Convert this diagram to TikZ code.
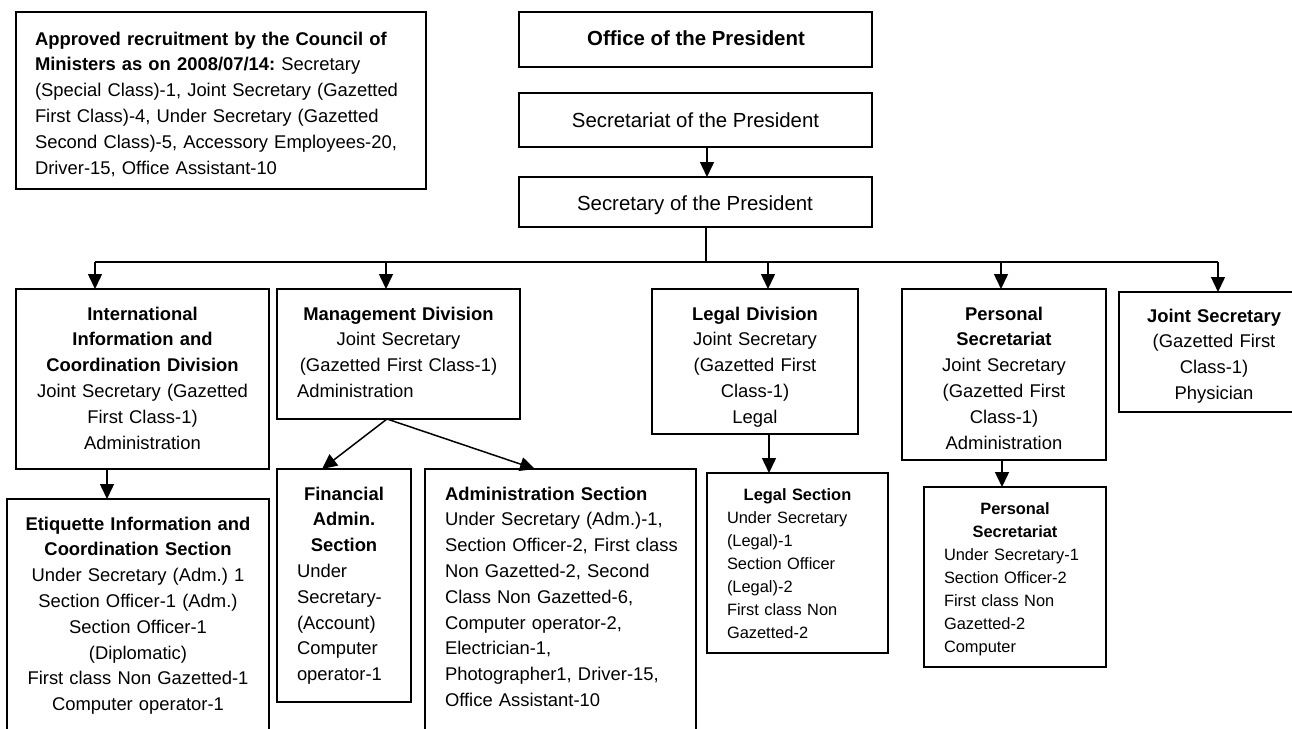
\documentclass[tikz,border=0pt]{standalone}
\usepackage{fontspec}
\setmainfont{Liberation Sans}
\usetikzlibrary{arrows.meta}
\frenchspacing
\newcommand\myfA{\fontsize{18.4}{25.8}\selectfont}
\newcommand\myfB{\fontsize{20.4}{24}\selectfont}
\newcommand\myfC{\fontsize{16.4}{23}\selectfont}
\newcommand\myctr[1]{\makebox[\linewidth]{#1}}
\newcommand\bx[5]{\node[box, minimum width=#4-#2, minimum height=#5-#3] (#1) at (#2,#3) {};}
\begin{document}
\begin{tikzpicture}[x=1pt,y=-1pt,
  box/.style={draw, line width=1.5pt, anchor=north west, inner sep=0pt, outer sep=0pt},
  txt/.style={inner sep=0pt, outer sep=0pt, font=\myfA},
  arr/.style={line width=1.5pt, -{Triangle[length=15pt,width=14pt]}},
  ln/.style={line width=1.5pt}]
\useasboundingbox (0,0) rectangle (1292,728);
\clip (0,0) rectangle (1292,728);

% boxes
\bx{note}{16}{12}{426}{189}
\bx{office}{519}{12}{872}{67}
\bx{secr}{519}{93}{872}{147}
\bx{sec}{519}{177}{872}{227}
\bx{intl}{16}{289}{269}{469}
\bx{mgmt}{277}{289}{520}{419}
\bx{legal}{652}{289}{858}{434}
\bx{pers}{902}{289}{1106}{460}
\bx{jsec}{1119}{292}{1309}{412}
\bx{etiq}{7}{499}{269}{750}
\bx{fin}{277}{469}{411}{702}
\bx{adm}{425}{469}{696}{750}
\bx{legs}{707}{473}{888}{653}
\bx{perss}{924}{487}{1106}{667}

% texts
\node[txt, anchor=base west, text width=385, align=left] (note-t) at (35,45)
  {\textbf{Approved recruitment by the Council of}\\\textbf{Ministers as on 2008/07/14:} Secretary\\(Special Class)-1, Joint Secretary (Gazetted\\First Class)-4, Under Secretary (Gazetted\\Second Class)-5, Accessory Employees-20,\\Driver-15, Office Assistant-10};
\node[txt, font=\myfB\bfseries, anchor=base] (office-t) at (696,45.5) {Office of the President};
\node[txt, font=\myfB, anchor=base] (secr-t) at (695.5,127) {Secretariat of the President};
\node[txt, font=\myfB, anchor=base] (sec-t) at (695,210) {Secretary of the President};

\node[txt, anchor=base, text width=245, align=center] (intl-t) at (142.5,320)
  {\textbf{International}\\\textbf{Information and}\\\textbf{Coordination Division}\\Joint Secretary (Gazetted\\First Class-1)\\Administration};
\node[txt, anchor=base west, text width=203, align=left] (mgmt-t) at (297,320)
  {\myctr{\textbf{Management Division}}\\\myctr{Joint Secretary}\\\myctr{(Gazetted First Class-1)}\\Administration};
\node[txt, anchor=base, text width=200, align=center] (legal-t) at (755,320)
  {\textbf{Legal Division}\\Joint Secretary\\(Gazetted First\\Class-1)\\Legal};
\node[txt, anchor=base, text width=200, align=center] (pers-t) at (1004,320)
  {\textbf{Personal}\\\textbf{Secretariat}\\Joint Secretary\\(Gazetted First\\Class-1)\\Administration};
\node[txt, anchor=base, text width=185, align=center] (jsec-t) at (1214,322)
  {\textbf{Joint Secretary}\\(Gazetted First\\Class-1)\\Physician};

\node[txt, anchor=base, text width=255, align=center] (etiq-t) at (138,530)
  {\textbf{Etiquette Information and}\\\textbf{Coordination Section}\\Under Secretary (Adm.) 1\\Section Officer-1 (Adm.)\\Section Officer-1\\(Diplomatic)\\First class Non Gazetted-1\\Computer operator-1};
\node[txt, anchor=base west, text width=94, align=left] (fin-t) at (297,500)
  {\myctr{\textbf{Financial}}\\\myctr{\textbf{Admin.}}\\\myctr{\textbf{Section}}\\Under\\Secretary-\\(Account)\\Computer\\operator-1};
\node[txt, anchor=base west, text width=250, align=left] (adm-t) at (445,500)
  {\textbf{Administration Section}\\Under Secretary (Adm.)-1,\\Section Officer-2, First class\\Non Gazetted-2, Second\\Class Non Gazetted-6,\\Computer operator-2,\\Electrician-1,\\Photographer1, Driver-15,\\Office Assistant-10};
\node[txt, font=\myfC, anchor=base west, text width=141, align=left] (legs-t) at (727,500)
  {\myctr{\textbf{Legal Section}}\\Under Secretary\\(Legal)-1\\Section Officer\\(Legal)-2\\First class Non\\Gazetted-2};
\node[txt, font=\myfC, anchor=base west, text width=142, align=left] (perss-t) at (944,514)
  {\myctr{\textbf{Personal}}\\\myctr{\textbf{Secretariat}}\\Under Secretary-1\\Section Officer-2\\First class Non\\Gazetted-2\\Computer};

% connectors
\coordinate (a1) at (707,147);
\draw[arr] (a1) -- (a1 |- sec.north);
\coordinate (b0) at (706,262);
\draw[ln] (sec.south -| b0) -- (b0);
\coordinate (bl) at (95,262);
\coordinate (br) at (1218,262);
\draw[ln] (bl) -- (br);
\coordinate (b2) at (386,262);
\coordinate (b3) at (768,262);
\coordinate (b4) at (1001,262);
\draw[arr] (bl) -- (bl |- intl.north);
\draw[arr] (b2) -- (b2 |- mgmt.north);
\draw[arr] (b3) -- (b3 |- legal.north);
\draw[arr] (b4) -- (b4 |- pers.north);
\draw[arr] (br) -- (br |- jsec.north);

\coordinate (c1) at (107,469);
\draw[arr] (c1) -- (c1 |- etiq.north);
\coordinate (c2) at (387,419);
\coordinate (finin) at (322,469);
\coordinate (admin) at (535,469);
\draw[arr] (c2) -- (finin);
\draw[arr] (c2) -- (admin);
\coordinate (c3) at (769,434);
\draw[arr] (c3) -- (c3 |- legs.north);
\coordinate (c4) at (1002,460);
\draw[arr] (c4) -- (c4 |- perss.north);
\end{tikzpicture}
\end{document}
